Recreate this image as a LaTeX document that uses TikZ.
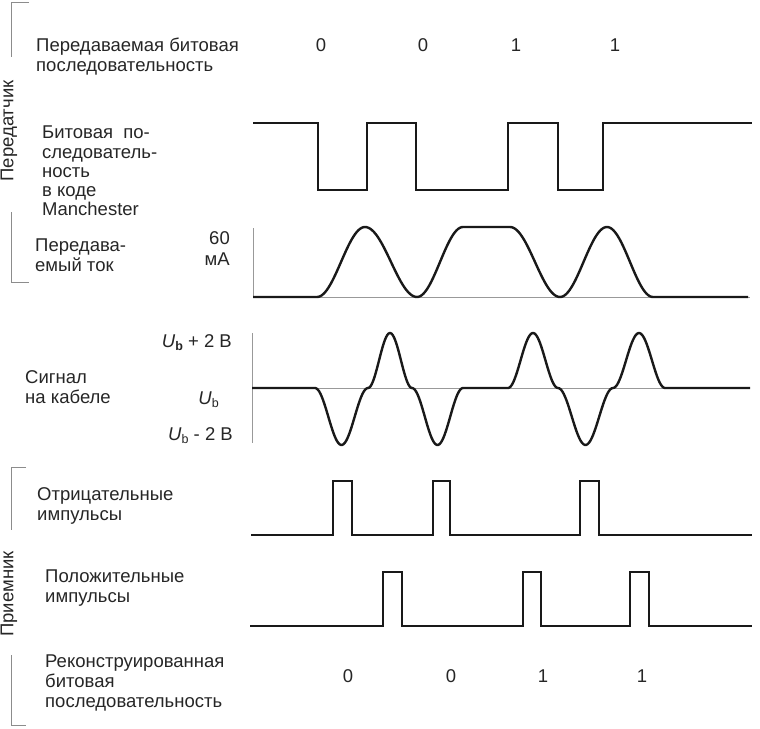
\documentclass[tikz,border=0pt]{standalone}
\usepackage{fontspec}
\setmainfont{Liberation Sans}
\newcommand{\subb}[1]{\raisebox{-0.35ex}{\fontsize{12.5}{12.5}\selectfont #1}}
\begin{document}
\begin{tikzpicture}[x=1pt,y=-1pt,
  wave/.style={line width=2.4pt, draw=black!90, line join=miter},
  axisl/.style={draw=black!40, line width=0.9pt},
  brack/.style={draw=black!45, line width=0.9pt},
  lbl/.style={anchor=base west, inner sep=0pt, text=black!85, font=\fontsize{18.5}{20}\selectfont},
  lblr/.style={anchor=base east, inner sep=0pt, text=black!85, font=\fontsize{18.5}{20}\selectfont},
  bitlbl/.style={anchor=base, inner sep=0pt, text=black!85, font=\fontsize{18.5}{20}\selectfont},
  vlbl/.style={rotate=90, inner sep=0pt, text=black!85, font=\fontsize{18.5}{20}\selectfont}]
\useasboundingbox (0,0) rectangle (760,728);

% brackets
\draw[brack] (29,2) -- (11,2) -- (11,57);
\draw[brack] (11,212) -- (11,282) -- (29,282);
\draw[brack] (26,467) -- (11,467) -- (11,530);
\draw[brack] (11,655) -- (11,725) -- (26,725);
\node[vlbl] (tx) at (9,131) {Передатчик};
\node[vlbl] (rx) at (9,594) {Приемник};

% labels
\node[lbl] (l1a) at (36,51) {Передаваемая битовая};
\node[lbl] (l1b) at (36,71) {последовательность};
\node[lbl] (l2a) at (42,138) {Битовая\ \ по-};
\node[lbl] (l2b) at (42,158) {следователь-};
\node[lbl] (l2c) at (42,177) {ность};
\node[lbl] (l2d) at (42,196) {в коде};
\node[lbl] (l2e) at (42,215) {Manchester};
\node[lbl] (l3a) at (35,251) {Передава-};
\node[lbl] (l3b) at (35,271) {емый ток};
\node[lblr] (l3c) at (230,244) {60};
\node[lblr] (l3d) at (230,265) {мА};
\node[lbl] (l4a) at (25,383) {Сигнал};
\node[lbl] (l4b) at (25,403) {на кабеле};
\node[lblr] (u1) at (232,347) {\textit{U}\subb{\textbf{b}} + 2 В};
\node[lblr] (u2) at (219,404) {\textit{U}\subb{b}};
\node[lblr] (u3) at (233,440) {\textit{U}\subb{b} - 2 В};
\node[lbl] (l5a) at (37,500) {Отрицательные};
\node[lbl] (l5b) at (37,520) {импульсы};
\node[lbl] (l6a) at (45,582) {Положительные};
\node[lbl] (l6b) at (45,602) {импульсы};
\node[lbl] (l7a) at (45,667) {Реконструированная};
\node[lbl] (l7b) at (45,687) {битовая};
\node[lbl] (l7c) at (45,707) {последовательность};

% bits
\node[bitlbl] (b1) at (321,51) {0};
\node[bitlbl] (b2) at (423,51) {0};
\node[bitlbl] (b3) at (516,51) {1};
\node[bitlbl] (b4) at (615,51) {1};
\node[bitlbl] (r1) at (348,682) {0};
\node[bitlbl] (r2) at (451,682) {0};
\node[bitlbl] (r3) at (543,682) {1};
\node[bitlbl] (r4) at (642,682) {1};

% Manchester
\draw[wave] (253,123) -- (318,123) -- (318,190) -- (367,190) -- (367,123) -- (416,123)
  -- (416,190) -- (508,190) -- (508,123) -- (558,123) -- (558,190) -- (603,190)
  -- (603,123) -- (752,123);

% current
\draw[axisl] (253,228) -- (253,297) -- (750,297);
\draw[wave, line join=round] (253,297) -- (317,297)
  -- plot[domain=317:365,samples=30] (\x,{297-35*(1-cos((\x-317)/48*180))})
  -- plot[domain=365:417,samples=30] (\x,{227+35*(1-cos((\x-365)/52*180))})
  -- plot[domain=417:463,samples=30] (\x,{297-35*(1-cos((\x-417)/46*180))})
  -- (510,227)
  -- plot[domain=510:560,samples=30] (\x,{227+35*(1-cos((\x-510)/50*180))})
  -- plot[domain=560:607,samples=30] (\x,{297-35*(1-cos((\x-560)/47*180))})
  -- plot[domain=607:653,samples=30] (\x,{227+35*(1-cos((\x-607)/46*180))})
  -- (748,297);

% cable signal
\draw[axisl] (252,333) -- (252,443);
\draw[axisl] (252,388) -- (750,388);
\draw[wave, line join=round] (252,388) -- (315,388)
  -- plot[domain=315:368,samples=40] (\x,{388+28.5*(1-cos((\x-315)/53*360))})
  -- plot[domain=368:412,samples=40] (\x,{388-27.5*(1-cos((\x-368)/44*360))})
  -- plot[domain=412:463,samples=40] (\x,{388+28.5*(1-cos((\x-412)/51*360))})
  -- (508,388)
  -- plot[domain=508:558,samples=40] (\x,{388-27.5*(1-cos((\x-508)/50*360))})
  -- plot[domain=558:613,samples=40] (\x,{388+28.5*(1-cos((\x-558)/55*360))})
  -- plot[domain=613:665,samples=40] (\x,{388-27.5*(1-cos((\x-613)/52*360))})
  -- (750,388);

% negative pulses
\draw[wave] (251,535) -- (333,535) -- (333,481) -- (352,481) -- (352,535) -- (433,535)
  -- (433,481) -- (450,481) -- (450,535) -- (580,535) -- (580,481) -- (599,481)
  -- (599,535) -- (752,535);
% positive pulses
\draw[wave] (250,626) -- (383,626) -- (383,572) -- (402,572) -- (402,626) -- (523,626)
  -- (523,572) -- (541,572) -- (541,626) -- (630,626) -- (630,572) -- (649,572)
  -- (649,626) -- (752,626);
\end{tikzpicture}
\end{document}
